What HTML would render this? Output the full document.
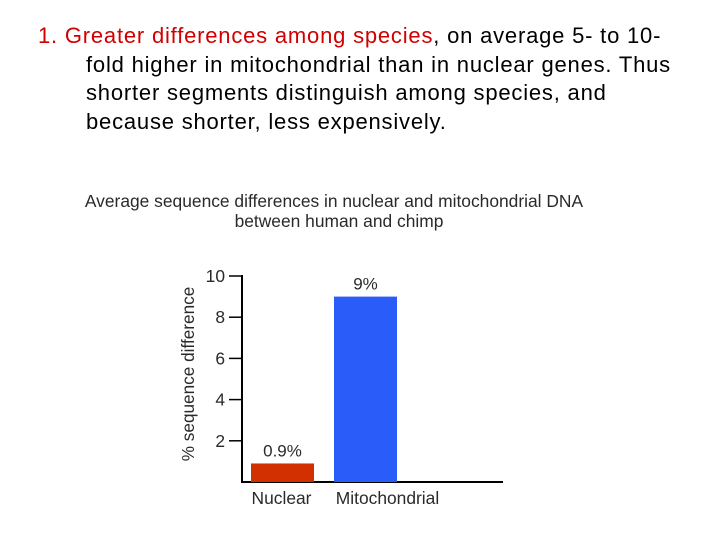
<!DOCTYPE html>
<html><head><meta charset="utf-8"><style>
body{margin:0;width:720px;height:540px;background:#fff;font-family:"Liberation Sans",sans-serif;overflow:hidden;position:relative}
.t{position:absolute;font-size:22px;letter-spacing:0.8px;line-height:28.7px;color:#000;white-space:nowrap}
</style></head><body>
<div class="t" style="left:38px;top:22px;">
<div><span style="color:#d00000">1. Greater differences among species</span>, on average 5- to 10-</div>
<div style="padding-left:48px">fold higher in mitochondrial than in nuclear genes. Thus</div>
<div style="padding-left:48px">shorter segments distinguish among species, and</div>
<div style="padding-left:48px">because shorter, less expensively.</div>
</div>
<svg width="720" height="540" style="position:absolute;left:0;top:0">
<g font-family="Liberation Sans, sans-serif" fill="#2a2a2a">
<text x="334" y="207" font-size="17.4" text-anchor="middle">Average sequence differences in nuclear and mitochondrial DNA</text>
<text x="339" y="227" font-size="17.4" text-anchor="middle">between human and chimp</text>
</g>
<g id="plot"></g>
</svg>
<script>
const categories=["Nuclear","Mitochondrial"];
const values=[0.9,9];
const valueLabels=["0.9%","9%"];
const colors=["#d23000","#2a5cfa"];
const ticks=[2,4,6,8,10];
const ns="http://www.w3.org/2000/svg";
const g=document.getElementById('plot');
const x0=242,x1=503,y0=482,yTop=276;
const y=v=>y0-(y0-yTop)*v/10;
const barX=[251,334],barW=63;
function mk(t,a,txt){const e=document.createElementNS(ns,t);for(const k in a)e.setAttribute(k,a[k]);if(txt!=null)e.textContent=txt;g.appendChild(e);return e;}
let e=mk('line',{x1:x0,y1:yTop-1,x2:x0,y2:y0+1,stroke:'#000','stroke-width':2});


e=mk('line',{x1:x0-1,y1:y0,x2:x1,y2:y0,stroke:'#000','stroke-width':2});


ticks.forEach(t=>{
 let l=mk('line',{x1:229,y1:y(t),x2:x0,y2:y(t),stroke:'#000','stroke-width':1.5});
 
 
 let tx=mk('text',{x:225,y:y(t)+6,'font-size':17.4,'text-anchor':'end','font-family':'Liberation Sans, sans-serif',fill:'#2a2a2a'},t);
 
 
});
categories.forEach((c,i)=>{
 let r=mk('rect',{x:barX[i],y:y(values[i]),width:barW,height:y0-y(values[i]),fill:colors[i]});
 
 
 let v=mk('text',{x:barX[i]+barW/2,y:y(values[i])-7,'font-size':17,'text-anchor':'middle','font-family':'Liberation Sans, sans-serif',fill:'#2a2a2a'},valueLabels[i]);
 
 
 let cl=mk('text',{x:barX[i]+barW/2+(i?22:-1),y:504,'font-size':17.4,'text-anchor':'middle','font-family':'Liberation Sans, sans-serif',fill:'#2a2a2a'},c);
 
 
});
e=mk('text',{x:0,y:0,'font-size':17.2,'text-anchor':'middle','font-family':'Liberation Sans, sans-serif',fill:'#2a2a2a',transform:'translate(194,374) rotate(-90)'},'% sequence difference');


</script>
</body></html>
